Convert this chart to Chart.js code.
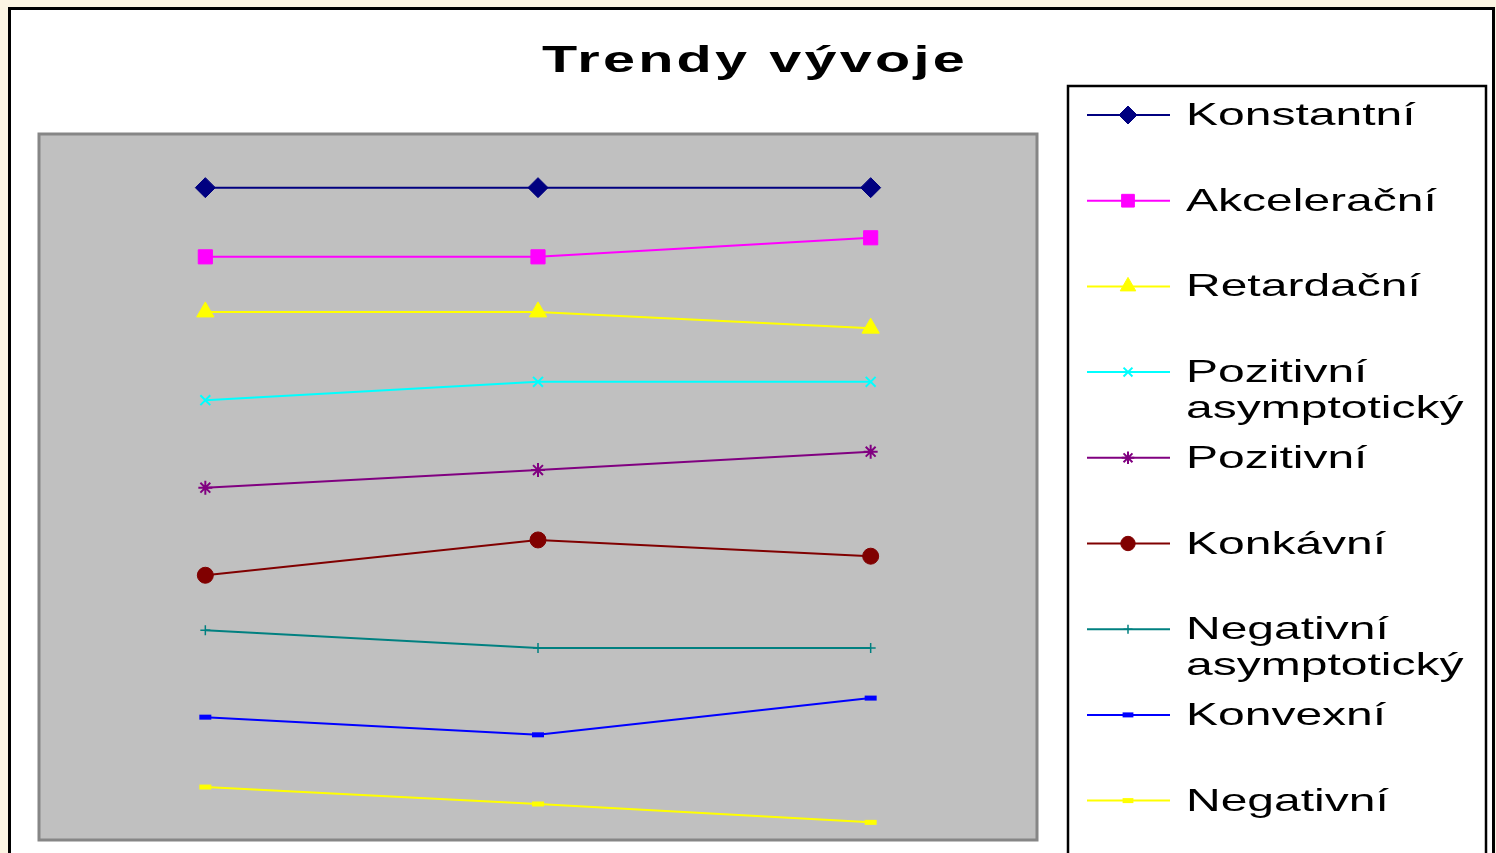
<!DOCTYPE html>
<html>
<head>
<meta charset="utf-8">
<script src="https://cdn.jsdelivr.net/npm/chart.js@4"></script>
<style>
  body { margin: 0; background: #fcf5e3; overflow: hidden; }
  .frame {
    position: absolute; left: 8px; top: 7px; width: 1487px; height: 860px;
    box-sizing: border-box; border: 3px solid #000; border-bottom: none; background: #fff;
  }
  .box { position: absolute; left: 0; top: 0; width: 1481px; height: 843px; }
</style>
</head>
<body>
<div class="frame"><div class="box"><canvas id="myChart"></canvas></div></div>
<script>
// kategorie (osa x bez popisku) a hodnoty trendu
const obdobi = ['1', '2', '3'];

const nazvy = [
  ['Konstantní'], ['Akcelerační'], ['Retardační'],
  ['Pozitivní', 'asymptotický'], ['Pozitivní'], ['Konkávní'],
  ['Negativní', 'asymptotický'], ['Konvexní'], ['Negativní']
];

const konstantni = [92.4, 92.4, 92.4];
const akceleracni = [82.6, 82.6, 85.3];
const retardacni = [74.8, 74.8, 72.5];
const pozAsymp = [62.3, 64.9, 64.9];
const pozitivni = [49.9, 52.4, 55.0];
const konkavni = [37.5, 42.5, 40.2];
const negAsymp = [29.7, 27.2, 27.2];
const konvexni = [17.4, 14.9, 20.1];
const negativni = [7.5, 5.1, 2.5];

const hodnoty = [konstantni, akceleracni, retardacni, pozAsymp, pozitivni,
  konkavni, negAsymp, konvexni, negativni];

const barvy = ['#000080', '#ff00ff', '#ffff00', '#00ffff', '#800080',
  '#800000', '#008080', '#0000ff', '#ffff00'];
const znacky = ['rectRot', 'rect', 'triangle', 'crossRot', 'star',
  'circle', 'cross', 'line', 'line'];
const velikosti = [10, 10, 10, 7, 7, 8, 5, 6, 6];
const tloustky = [1, 1, 1, 2, 2, 1, 1.5, 5, 5];

const datasets = hodnoty.map((h, i) => ({
  label: nazvy[i].join(' '),
  data: h,
  borderColor: barvy[i],
  backgroundColor: barvy[i],
  borderWidth: 2,
  pointStyle: znacky[i],
  pointRadius: velikosti[i],
  pointHoverRadius: velikosti[i],
  pointBorderWidth: tloustky[i],
  tension: 0
}));

// sedé pozadí grafu, nadpis a legenda
const vzhled = {
  id: 'vzhled',
  beforeDatasetsDraw(chart) {
    const { ctx, chartArea: a } = chart;
    ctx.save();
    ctx.fillStyle = '#c0c0c0';
    ctx.fillRect(a.left, a.top, a.right - a.left, a.bottom - a.top);
    ctx.strokeStyle = '#868686';
    ctx.lineWidth = 3;
    ctx.strokeRect(a.left, a.top, a.right - a.left, a.bottom - a.top);
    ctx.restore();
  },
  afterDraw(chart) {
    const ctx = chart.ctx;
    ctx.save();
    // nadpis
    ctx.fillStyle = '#000';
    ctx.font = 'bold 36px "Liberation Sans", Arial, sans-serif';
    ctx.textBaseline = 'alphabetic';
    ctx.letterSpacing = '2px';
    const t = 'Trendy vývoje';
    const w = ctx.measureText(t).width;
    ctx.save();
    ctx.translate(744, 62);
    ctx.scale(1.6, 1);
    ctx.fillText(t, -w / 2, 0);
    ctx.restore();
    ctx.letterSpacing = '0px';

    // rámeček legendy
    ctx.strokeStyle = '#000';
    ctx.lineWidth = 2.5;
    ctx.strokeRect(1057, 76, 418, 800);

    ctx.font = '32px "Liberation Sans", Arial, sans-serif';
    nazvy.forEach((n, i) => {
      const y = 105 + i * 85.7;
      ctx.strokeStyle = barvy[i];
      ctx.fillStyle = barvy[i];
      ctx.lineWidth = 2;
      ctx.beginPath();
      ctx.moveTo(1076, y);
      ctx.lineTo(1159, y);
      ctx.stroke();
      if (Chart.helpers && Chart.helpers.drawPoint) {
        ctx.lineWidth = tloustky[i];
        Chart.helpers.drawPoint(ctx, {
          pointStyle: znacky[i], radius: velikosti[i] * 0.9,
          rotation: 0, borderWidth: tloustky[i]
        }, 1117, y);
      }
      ctx.fillStyle = '#000';
      n.forEach((r, j) => {
        ctx.save();
        ctx.translate(1175, y + 10 + j * 36);
        ctx.scale(1.5, 1);
        ctx.fillText(r, 0, 0);
        ctx.restore();
      });
    });
    ctx.restore();
  }
};

const ctx = document.getElementById('myChart').getContext('2d');
const chart = new Chart(ctx, {
  type: 'line',
  data: { labels: obdobi, datasets: datasets },
  options: {
    responsive: true,
    maintainAspectRatio: false,
    animation: false,
    layout: { padding: { left: 28, right: 455, top: 124, bottom: 13 } },
    plugins: {
      legend: { display: false },
      title: { display: false },
      tooltip: { enabled: false }
    },
    scales: {
      x: { display: false, offset: true },
      y: { display: false, min: 0, max: 100 }
    }
  },
  plugins: [vzhled]
});
</script>
</body>
</html>
